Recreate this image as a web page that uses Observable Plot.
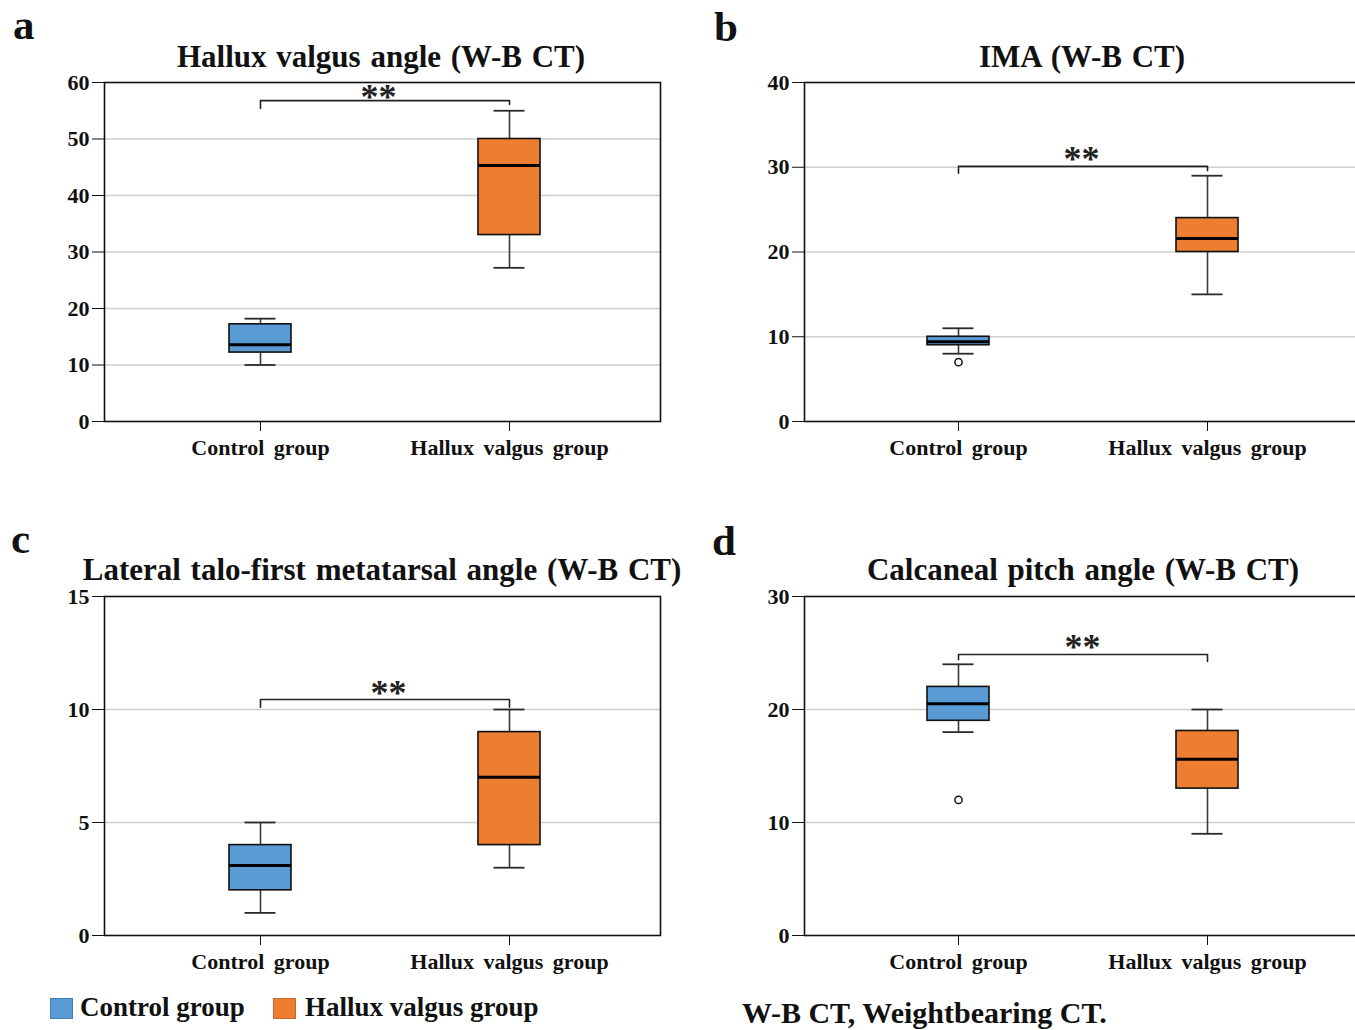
<!DOCTYPE html>
<html>
<head>
<meta charset="utf-8">
<script src="https://cdn.jsdelivr.net/npm/d3@7"></script>
<script src="https://cdn.jsdelivr.net/npm/@observablehq/plot@0.6"></script>
<style>
  html, body { margin: 0; padding: 0; background: #fff; overflow: hidden; }
  #page { position: relative; width: 1355px; height: 1030px; overflow: hidden; background: #fff;
          font-family: "Liberation Serif", "Times New Roman", serif; font-weight: bold; color: #111; }
  .abs { position: absolute; white-space: nowrap; }
  .plotwrap { position: absolute; }
  .plotwrap svg { display: block; overflow: visible; max-width: none !important; }
  g[aria-label="x-axis tick label"] text { word-spacing: 4px; }
  .swatch { position: absolute; box-sizing: border-box; }
</style>
</head>
<body>
<div id="page"></div>
<script>
// ---------------- data ----------------
const groups = ["Control group", "Hallux valgus group"];
const groupColors = ["#5b9bd5", "#ed7d31"];
const swatchBorders = ["#3f7fc0", "#c9662a"];
const panelLetters = ["a", "b", "c", "d"];
const panelTitles = [
  "Hallux valgus angle (W-B CT)",
  "IMA (W-B CT)",
  "Lateral talo-first metatarsal angle (W-B CT)",
  "Calcaneal pitch angle (W-B CT)"
];
// box statistics per group: [min, q1, median, q3, max]
const hvaStats = [[10, 12.2, 13.6, 17.2, 18.2], [27.2, 33, 45.3, 50, 55]];
const imaStats = [[8, 9, 9.4, 10, 11], [15, 20, 21.6, 24, 29]];
const ltmStats = [[1, 2, 3.1, 4, 5], [3, 4, 7, 9, 10]];
const cpaStats = [[18, 19, 20.5, 22, 24], [9, 13, 15.6, 18.1, 20]];
// outliers (control group)
const hvaOutliers = [];
const imaOutliers = [7];
const ltmOutliers = [];
const cpaOutliers = [12];
// y ticks
const hvaTicks = [0, 10, 20, 30, 40, 50, 60];
const imaTicks = [0, 10, 20, 30, 40];
const ltmTicks = [0, 5, 10, 15];
const cpaTicks = [0, 10, 20, 30];
// significance bracket: [left leg end, bar level, right leg end]
const hvaBracket = [55.4, 56.8, 56.1];
const imaBracket = [29.3, 30.1, 29.6];
const ltmBracket = [10.1, 10.44, 10.1];
const cpaBracket = [24.4, 24.87, 24.25];
const sigLabel = "**";
const caption = "W-B CT, Weightbearing  CT.";

// ---------------- layout ----------------
const page = document.getElementById("page");
const FS_BASE = 0.8375; // baseline offset for Liberation Serif with line-height 1

function addText(txt, {left, baseline, size, center = false, wordSpacing = 0, weight = "bold"}) {
  const d = document.createElement("div");
  d.className = "abs";
  d.textContent = txt;
  d.style.fontSize = size + "px";
  d.style.lineHeight = size + "px";
  d.style.fontWeight = weight;
  d.style.top = (baseline - FS_BASE * size) + "px";
  d.style.left = left + "px";
  if (wordSpacing) d.style.wordSpacing = wordSpacing + "px";
  if (center) d.style.transform = "translateX(-50%)";
  page.appendChild(d);
  return d;
}

const panels = [
  {stats: hvaStats, outliers: hvaOutliers, ticks: hvaTicks, bracket: hvaBracket,
   left: 0, top: 72, width: 680, marginRight: 20, paddingOuter: 0.488, align: 0.508, starDx: 118, starDy: 8,
   letterX: 13, letterBase: 39, titleX: 381, titleBase: 67},
  {stats: imaStats, outliers: imaOutliers, ticks: imaTicks, bracket: imaBracket,
   left: 700, top: 72, width: 680, marginRight: 10, paddingOuter: 0.508, align: 0.480, starDx: 123, starDy: 5,
   letterX: 714, letterBase: 41, titleX: 1082, titleBase: 67},
  {stats: ltmStats, outliers: ltmOutliers, ticks: ltmTicks, bracket: ltmBracket,
   left: 0, top: 586, width: 680, marginRight: 20, paddingOuter: 0.488, align: 0.508, starDx: 128, starDy: 5,
   letterX: 11, letterBase: 553, titleX: 382, titleBase: 580},
  {stats: cpaStats, outliers: cpaOutliers, ticks: cpaTicks, bracket: cpaBracket,
   left: 700, top: 586, width: 680, marginRight: 10, paddingOuter: 0.508, align: 0.480, starDx: 124, starDy: 5,
   letterX: 712, letterBase: 555, titleX: 1083, titleBase: 580}
];

panels.forEach((p, k) => {
  addText(panelLetters[k], {left: p.letterX, baseline: p.letterBase, size: 43});
  addText(panelTitles[k], {left: p.titleX, baseline: p.titleBase, size: 31, center: true, wordSpacing: 2});

  const rows = groups.map((g, i) => ({
    group: g, min: p.stats[i][0], q1: p.stats[i][1], med: p.stats[i][2], q3: p.stats[i][3], max: p.stats[i][4]
  }));
  const outl = p.outliers.map(v => ({group: groups[0], value: v}));
  const br = [
    {group: groups[0], value: p.bracket[0]},
    {group: groups[0], value: p.bracket[1]},
    {group: groups[1], value: p.bracket[1]},
    {group: groups[1], value: p.bracket[2]}
  ];
  const yMax = p.ticks[p.ticks.length - 1];

  const chart = Plot.plot({
    width: p.width,
    height: 398,
    marginTop: 10,
    marginBottom: 49,
    marginLeft: 104,
    marginRight: p.marginRight,
    style: {fontFamily: "'Liberation Serif', 'Times New Roman', serif", fontWeight: "bold", color: "#111", background: "transparent", overflow: "visible", maxWidth: "none"},
    x: {type: "band", domain: groups, paddingInner: 0.752, paddingOuter: p.paddingOuter, align: p.align, label: null},
    y: {domain: [0, yMax], label: null},
    color: {domain: groups, range: groupColors},
    marks: [
      Plot.gridY(p.ticks.filter(t => t > 0 && t < yMax), {stroke: "#cfcfcf", strokeOpacity: 1, strokeWidth: 1.6}),
      Plot.ruleX(rows, {x: "group", y1: "q3", y2: "max", stroke: "#3a3a3a", strokeWidth: 1.6}),
      Plot.ruleX(rows, {x: "group", y1: "min", y2: "q1", stroke: "#3a3a3a", strokeWidth: 1.6}),
      Plot.tickY(rows, {x: "group", y: "max", insetLeft: 15.5, insetRight: 15.5, stroke: "#2a2a2a", strokeWidth: 1.8}),
      Plot.tickY(rows, {x: "group", y: "min", insetLeft: 15.5, insetRight: 15.5, stroke: "#2a2a2a", strokeWidth: 1.8}),
      Plot.barY(rows, {x: "group", y1: "q1", y2: "q3", fill: "group", stroke: "#111", strokeWidth: 1.6}),
      Plot.tickY(rows, {x: "group", y: "med", stroke: "#000", strokeWidth: 3}),
      Plot.dot(outl, {x: "group", y: "value", r: 3.6, stroke: "#111", fill: "#fff", strokeWidth: 1.5}),
      Plot.line(br, {x: "group", y: "value", stroke: "#222", strokeWidth: 1.6}),
      Plot.text([br[1]], {x: "group", y: "value", text: () => sigLabel, dx: p.starDx, dy: p.starDy,
        lineAnchor: "bottom", fontSize: 36, fontWeight: "bold", fill: "#222",
        fontFamily: "'Liberation Serif', serif"}),
      Plot.axisY(p.ticks, {tickSize: 12, tickPadding: 3, fontSize: 22, fontWeight: "bold", stroke: "#111", label: null}),
      Plot.axisX({tickSize: 10, tickPadding: 8, fontSize: 22, fontWeight: "bold", stroke: "#111", label: null}),
      Plot.frame({stroke: "#111", strokeWidth: 1.6})
    ]
  });
  const wrap = document.createElement("div");
  wrap.className = "plotwrap";
  wrap.style.left = p.left + "px";
  wrap.style.top = p.top + "px";
  wrap.style.width = p.width + "px";
  wrap.appendChild(chart);
  page.appendChild(wrap);
});

// legend
const legendItems = [{x: 50, tx: 80}, {x: 273, tx: 305}];
groups.forEach((g, i) => {
  const s = document.createElement("div");
  s.className = "swatch";
  s.style.left = legendItems[i].x + "px";
  s.style.top = "998px";
  s.style.width = "23px";
  s.style.height = "21px";
  s.style.background = groupColors[i];
  s.style.border = "1.5px solid " + swatchBorders[i];
  page.appendChild(s);
  addText(g, {left: legendItems[i].tx, baseline: 1017, size: 27});
});

// caption
addText(caption, {left: 742, baseline: 1023, size: 30});
</script>
</body>
</html>
